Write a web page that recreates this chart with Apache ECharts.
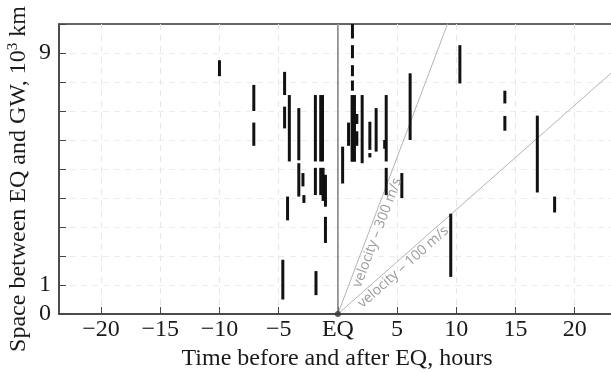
<!DOCTYPE html>
<html lang="en">
<head>
    <meta charset="UTF-8">
    <title>EQ and GW</title>
    <script src="https://cdn.jsdelivr.net/npm/echarts@6/dist/echarts.min.js"></script>
    <style>
      html, body { margin: 0; padding: 0; background: #fff; }
      #main { width: 611px; height: 373px; }
    </style>
</head>
<body>
  <div id="main"></div>

  <script type="text/javascript">
    // observed GW segments: time (hours from EQ), lower and upper distance (10^3 km)
    var segTime = [-10.0, -7.1, -7.1, -4.5, -4.5, -4.65, -4.1, -4.25, -3.3, -3.3, -2.95, -2.87,
      -1.9, -1.9, -1.45, -1.3, -1.45, -1.25, -1.05, -1.05, -1.85,
      0.4, 0.9, 1.23, 1.23, 1.23, 1.23, 1.2, 1.4, 1.6, 1.6, 2.05, 2.7, 2.7, 3.23, 4.08, 3.95, 4.08,
      5.4, 6.1, 9.53, 10.3, 14.1, 14.1, 16.84, 18.3];
    var segLow = [8.2, 7.0, 5.8, 7.55, 6.4, 0.5, 5.26, 3.23, 5.3, 4.05, 4.4, 3.83,
      5.26, 4.1, 5.26, 5.26, 4.1, 3.9, 3.7, 2.45, 0.65,
      4.5, 5.8, 9.5, 8.82, 8.2, 7.7, 5.25, 5.25, 6.55, 5.8, 5.2, 5.66, 5.4, 5.6, 5.26, 5.7, 4.1,
      4.0, 6.0, 1.28, 7.95, 7.26, 6.32, 4.19, 3.5];
    var segHigh = [8.75, 7.9, 6.6, 8.35, 7.15, 1.87, 7.55, 4.05, 7.1, 5.2, 4.86, 4.1,
      7.55, 5.04, 7.55, 7.55, 5.04, 5.04, 4.8, 3.35, 1.48,
      5.77, 6.6, 10.0, 9.27, 8.58, 8.05, 7.55, 7.55, 6.9, 6.3, 7.55, 6.63, 5.55, 7.1, 7.55, 6.0, 5.04,
      4.86, 8.3, 3.46, 9.27, 7.7, 6.83, 6.84, 4.05];

    var velocities = [300, 100]; // m/s
    var velocityNames = ['velocity \u2013 300 m/s', 'velocity \u2013 100 m/s'];
    var xTicks = [-20, -15, -10, -5, 0, 5, 10, 15, 20];
    var yLabels = [0, 1, 9];

    var xMin = -23.55, xMax = 23.4;

    var chart = echarts.init(document.getElementById('main'), null, { renderer: 'canvas' });

    var segData = segTime.map(function (t, i) {
      return [t, segLow[i], segHigh[i]];
    });

    function renderSeg(params, api) {
      var a = api.coord([api.value(0), api.value(1)]);
      var b = api.coord([api.value(0), api.value(2)]);
      return {
        type: 'line',
        shape: { x1: a[0], y1: a[1], x2: b[0], y2: b[1] },
        style: { stroke: '#111', lineWidth: 3 }
      };
    }

    // 1000 km per hour for a speed in m/s
    function kkmPerHour(v) {
      return v * 3.6 / 1000;
    }

    var velocitySeries = velocities.map(function (v) {
      return {
        type: 'line',
        data: [[0, 0], [xMax, xMax * kkmPerHour(v)]],
        showSymbol: false,
        clip: true,
        silent: true,
        z: 1,
        lineStyle: { color: '#b4b4b4', width: 1 }
      };
    });

    var serif = '"Liberation Serif", "DejaVu Serif", serif';

    var option = {
      animation: false,
      grid: {
        left: 59, width: 556, top: 24, bottom: 59,
        outerBoundsMode: 'none',
        show: true, borderColor: '#333', borderWidth: 1.5
      },
      xAxis: {
        type: 'value',
        min: xMin,
        max: xMax,
        name: 'Time before and after EQ, hours',
        nameLocation: 'middle',
        nameGap: 28,
        nameTextStyle: { fontFamily: serif, fontSize: 24, color: '#1a1a1a' },
        axisLine: { onZero: false, lineStyle: { color: '#444', width: 1.5 } },
        axisTick: { inside: true, length: 7, customValues: xTicks, lineStyle: { color: '#444' } },
        axisLabel: {
          customValues: xTicks,
          margin: 4,
          fontFamily: serif,
          fontSize: 24,
          color: '#1a1a1a',
          formatter: function (v) {
            if (v === 0) return 'EQ';
            return v < 0 ? '\u2212' + (-v) : String(v);
          }
        },
        splitLine: { show: true, lineStyle: { color: '#e6e6e6', type: [6, 5] } }
      },
      yAxis: {
        type: 'value',
        min: 0,
        max: 10,
        interval: 1,
        axisLine: { show: true, onZero: false, lineStyle: { color: '#444', width: 1.5 } },
        axisTick: { show: true, inside: true, length: 7, lineStyle: { color: '#444' } },
        axisLabel: {
          customValues: yLabels,
          margin: 8,
          fontFamily: serif,
          fontSize: 24,
          color: '#1a1a1a'
        },
        splitLine: {
          show: true, showMaxLine: false, showMinLine: false,
          lineStyle: { color: '#ececec', type: [6, 5] }
        }
      },
      series: velocitySeries.concat([
        {
          type: 'line',
          data: [[0, 0], [0, 10]],
          showSymbol: false,
          silent: true,
          z: 2,
          lineStyle: { color: '#808080', width: 1.5 }
        },
        {
          type: 'custom',
          renderItem: renderSeg,
          data: segData,
          clip: true,
          z: 3,
          encode: { x: 0, y: [1, 2] }
        },
        {
          type: 'scatter',
          data: [[0, 0]],
          symbolSize: 6,
          clip: false,
          z: 4,
          itemStyle: { color: '#333' }
        }
      ])
    };

    chart.setOption(option);

    // texts along the velocity lines, placed from the axis scales
    var labelAlong = [90, 80];
    var labelOffset = [8, 8];
    var origin = chart.convertToPixel({ gridIndex: 0 }, [0, 0]);
    var graphics = velocities.map(function (v, i) {
      var p = chart.convertToPixel({ gridIndex: 0 }, [5, 5 * kkmPerHour(v)]);
      var dx = p[0] - origin[0], dy = p[1] - origin[1];
      var len = Math.sqrt(dx * dx + dy * dy);
      var ux = dx / len, uy = dy / len;
      return {
        type: 'text',
        x: origin[0] + ux * labelAlong[i] - uy * labelOffset[i],
        y: origin[1] + uy * labelAlong[i] + ux * labelOffset[i],
        rotation: Math.atan2(-dy, dx),
        silent: true,
        z: 5,
        style: {
          text: velocityNames[i],
          align: 'center',
          verticalAlign: 'middle',
          fill: '#9a9a9a',
          fontSize: 14,
          fontFamily: '"Open Sans", sans-serif'
        }
      };
    });

    graphics.push({
      type: 'text',
      x: 19,
      y: 179,
      rotation: Math.PI / 2,
      silent: true,
      style: {
        text: '{a|Space between EQ and GW, 10}{s|3}{a| km}',
        align: 'center',
        verticalAlign: 'middle',
        fill: '#1a1a1a',
        rich: {
          a: { fontFamily: serif, fontSize: 24, lineHeight: 27, fill: '#1a1a1a' },
          s: { fontFamily: serif, fontSize: 15, lineHeight: 27, verticalAlign: 'top', fill: '#1a1a1a' }
        }
      }
    });

    chart.setOption({ graphic: graphics });

    window.addEventListener('resize', chart.resize);
  </script>
</body>
</html>
